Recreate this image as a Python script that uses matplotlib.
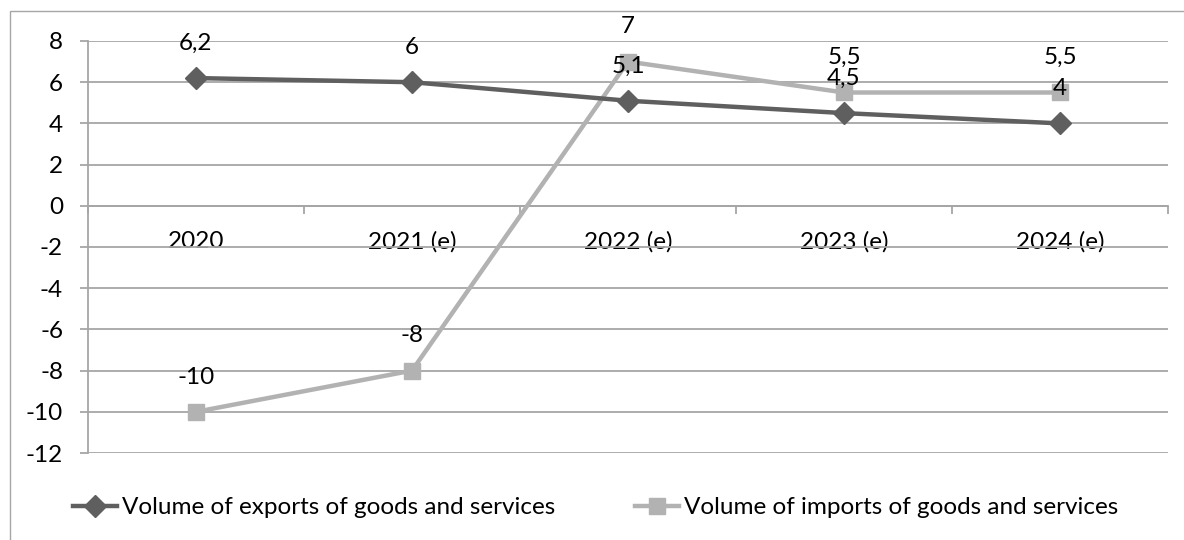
import numpy as np
import matplotlib.pyplot as plt
from matplotlib.patches import Rectangle

plt.rcParams['font.family'] = ['Lato', 'DejaVu Sans']
plt.rcParams['axes.unicode_minus'] = False

years = ['2020', '2021 (e)', '2022 (e)', '2023 (e)', '2024 (e)']
exports = [6.2, 6, 5.1, 4.5, 4]
imports = [-10, -8, 7, 5.5, 5.5]
export_labels = ['6,2', '6', '5,1', '4,5', '4']
import_labels = ['-10', '-8', '7', '5,5', '5,5']

fs = 17.5

fig = plt.figure(figsize=(11.84, 5.4), dpi=100)
# outer chart frame
fig.patches.append(Rectangle((10 / 1184, -0.2), 1.2, 1.2 - 11 / 540,
                             transform=fig.transFigure, fill=False,
                             edgecolor='#a6a6a6', linewidth=1.0))
ax = fig.add_axes([88 / 1184, 87 / 540, 1080 / 1184, 412 / 540])

x = np.arange(len(years))
ax.plot(x, imports, color='#b2b2b2', linewidth=3.2, marker='s', markersize=12,
        label='Volume of imports of goods and services', zorder=3)
ax.plot(x, exports, color='#5f5f5f', linewidth=3.2, marker='D', markersize=11,
        label='Volume of exports of goods and services', zorder=4)

for i in range(len(x)):
    ax.annotate(export_labels[i], (x[i], exports[i]), xytext=(0, 25),
                textcoords='offset points', ha='center', va='center',
                fontsize=fs, zorder=6)
    ax.annotate(import_labels[i], (x[i], imports[i]), xytext=(0, 25),
                textcoords='offset points', ha='center', va='center',
                fontsize=fs, zorder=6)

ax.set_xlim(-0.5, len(years) - 0.5)
ax.set_ylim(-12, 8)
ax.set_yticks(np.arange(-12, 9, 2))
ax.grid(axis='y', color='#a6a6a6', linewidth=1.3)
ax.set_axisbelow(True)

for s in ['top', 'right']:
    ax.spines[s].set_visible(False)
ax.spines['left'].set_color('#a6a6a6')
ax.spines['left'].set_linewidth(1.3)
ax.spines['bottom'].set_position(('data', 0))
ax.spines['bottom'].set_color('#a6a6a6')
ax.spines['bottom'].set_linewidth(1.3)

ax.set_xticks(x)
ax.set_xticklabels(years)
ax.set_xticks(np.arange(-0.5, len(years)), minor=True)
ax.tick_params(axis='x', which='major', length=0, pad=18, labelsize=fs)
ax.tick_params(axis='x', which='minor', length=6, color='#a6a6a6', width=1.3)
ax.tick_params(axis='y', length=6, color='#a6a6a6', width=1.3, pad=12,
               labelsize=fs)

h, l = ax.get_legend_handles_labels()
fig.legend(h[::-1], l[::-1], loc='center', bbox_to_anchor=(0.503, 0.06), ncol=2,
           frameon=False, fontsize=fs, handlelength=1.8, handletextpad=0.2,
           columnspacing=3.3)

fig.savefig('out.png', dpi=100)
